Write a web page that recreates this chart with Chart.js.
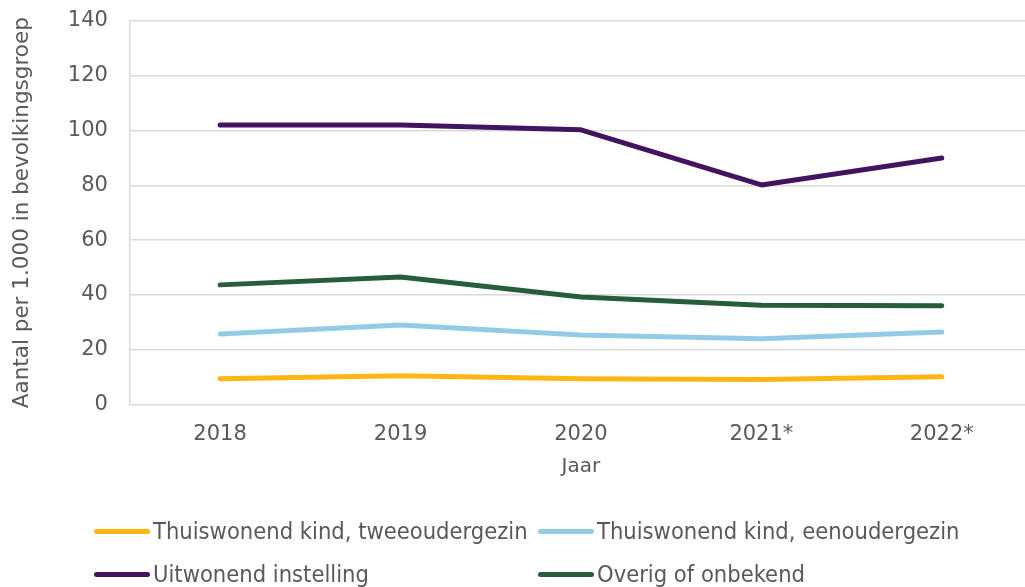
<!DOCTYPE html>
<html>
<head>
<meta charset="utf-8">
<script src="https://cdn.jsdelivr.net/npm/chart.js@4/dist/chart.umd.min.js"></script>
<style>
  html, body { margin: 0; padding: 0; background: #fff; overflow: hidden; }
  #wrap { position: absolute; left: 0; top: -14px; width: 1032px; height: 601px; }
  #legend { position: absolute; left: 0; top: 0; width: 1025px; height: 587px; pointer-events: none;
            font-family: 'DejaVu Sans Condensed', 'DejaVu Sans', sans-serif; font-size: 23.5px; color: #595959; }
  .item { position: absolute; display: flex; align-items: center; white-space: nowrap; }
  .mark { width: 56px; height: 5px; border-radius: 3px; margin-right: 3px; }
</style>
</head>
<body>
<div id="wrap">
  <canvas id="myChart"></canvas>
</div>
<div id="legend"></div>
<script>
let years = ['2018', '2019', '2020', '2021*', '2022*'];
let y_ticks = [0, 20, 40, 60, 80, 100, 120, 140];

let tweeouder = [9.5, 10.6, 9.5, 9.2, 10.2];
let eenouder = [25.8, 29.1, 25.4, 24.1, 26.5];
let instelling = [102, 102, 100.2, 80.1, 89.9];
let overig = [43.7, 46.6, 39.3, 36.3, 36.1];

let series_names = [
    'Thuiswonend kind, tweeoudergezin',
    'Thuiswonend kind, eenoudergezin',
    'Uitwonend instelling',
    'Overig of onbekend'
];
let series_colors = ['#ffb612', '#93cbe7', '#42145f', '#275d38'];

const tickColor = '#595959';
const gridColor = '#d9d9d9';

let ctx = document.getElementById('myChart').getContext('2d');

let myChart = new Chart(ctx, {
    type: 'line',
    data: {
        labels: years,
        datasets: [tweeouder, eenouder, instelling, overig].map((d, i) => ({
            label: series_names[i],
            data: d,
            borderColor: series_colors[i],
            backgroundColor: series_colors[i],
            borderWidth: 5,
            borderCapStyle: 'round',
            borderJoinStyle: 'round',
            pointRadius: 0,
            tension: 0,
        }))
    },
    options: {
        responsive: true,
        maintainAspectRatio: false,
        animation: false,
        layout: {
            padding: { top: 0, right: 0, bottom: 108, left: 10 }
        },
        scales: {
            x: {
                offset: true,
                grid: { display: false, drawTicks: false },
                border: { display: false },
                ticks: {
                    color: tickColor,
                    padding: 17,
                    font: { family: 'DejaVu Sans', size: 21 }
                },
                title: {
                    display: true,
                    text: 'Jaar',
                    color: tickColor,
                    padding: { top: -9, bottom: 0 },
                    font: { family: 'DejaVu Sans', size: 20 }
                }
            },
            y: {
                min: 0,
                max: 140,
                afterBuildTicks: axis => {
                    axis.ticks = y_ticks.map(v => ({ value: v }));
                },
                grid: {
                    color: gridColor,
                    lineWidth: 1.5,
                    drawTicks: false
                },
                border: { display: true, color: gridColor, width: 1.5 },
                ticks: {
                    color: tickColor,
                    padding: 22,
                    font: { family: 'DejaVu Sans', size: 21 }
                },
                title: {
                    display: true,
                    text: 'Aantal per 1.000 in bevolkingsgroep',
                    color: tickColor,
                    padding: { top: 0, bottom: 10 },
                    font: { family: 'DejaVu Sans', size: 21.5 }
                }
            }
        },
        plugins: {
            legend: { display: false },
            tooltip: { enabled: false }
        }
    }
});

// legend in two columns, as in the original
let legendPos = [[94, 531], [538, 531], [94, 574], [538, 574]];
let legend = document.getElementById('legend');
myChart.data.datasets.forEach((ds, i) => {
    let item = document.createElement('div');
    item.className = 'item';
    item.style.left = legendPos[i][0] + 'px';
    item.style.top = (legendPos[i][1] - 15) + 'px';
    item.style.height = '30px';
    let mark = document.createElement('span');
    mark.className = 'mark';
    mark.style.backgroundColor = ds.borderColor;
    let txt = document.createElement('span');
    txt.textContent = ds.label;
    item.appendChild(mark);
    item.appendChild(txt);
    legend.appendChild(item);
});
</script>
</body>
</html>
